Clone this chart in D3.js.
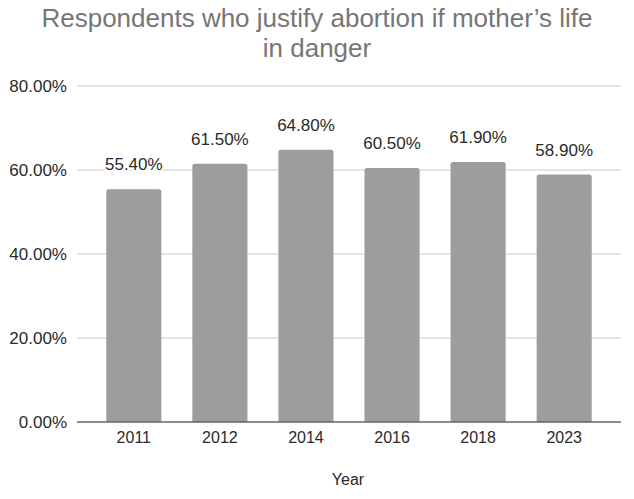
<!DOCTYPE html>
<html>
<head>
<meta charset="utf-8">
<script src="https://cdn.jsdelivr.net/npm/d3@7"></script>
<style>
  body { margin: 0; background: #fff; }
  svg { font-family: "Liberation Sans", Arial, sans-serif; }
</style>
</head>
<body>
<svg width="634" height="499"></svg>
<script>
const years = ['2011', '2012', '2014', '2016', '2018', '2023'];
const values = [55.4, 61.5, 64.8, 60.5, 61.9, 58.9];
const yTicks = [0, 20, 40, 60, 80];

const svg = d3.select('svg');
const margin = { left: 77, right: 13, top: 86, bottom: 77 };
const width = +svg.attr('width');
const height = +svg.attr('height');

const x = d3.scaleBand()
  .domain(years)
  .range([margin.left, width - margin.right])
  .paddingInner(0.36)
  .paddingOuter(0.34);

const y = d3.scaleLinear()
  .domain([0, 80])
  .range([height - margin.bottom, margin.top]);

// title
svg.append('text')
  .attr('text-anchor', 'middle')
  .attr('fill', '#767676')
  .attr('font-size', 26)
  .selectAll('tspan')
  .data(['Respondents who justify abortion if mother\u2019s life', 'in danger'])
  .enter()
  .append('tspan')
    .attr('x', 317)
    .attr('y', (d, i) => 27 + i * 30)
    .text(d => d);

// grid + y labels
const grid = svg.append('g').attr('class', 'grid');
grid.selectAll('line')
  .data(yTicks.filter(d => d > 0))
  .enter()
  .append('line')
    .attr('x1', margin.left)
    .attr('x2', width - margin.right)
    .attr('y1', d => y(d))
    .attr('y2', d => y(d))
    .attr('stroke', '#dcdcdc')
    .attr('stroke-width', 1.3);

grid.selectAll('text')
  .data(yTicks)
  .enter()
  .append('text')
    .attr('x', margin.left - 10)
    .attr('y', d => y(d))
    .attr('dy', '0.36em')
    .attr('text-anchor', 'end')
    .attr('font-size', 17)
    .attr('fill', '#2a2a2a')
    .text(d => d.toFixed(2) + '%');

// bars
const bars = svg.append('g').attr('class', 'bars');
bars.selectAll('path')
  .data(values)
  .enter()
  .append('path')
    .attr('fill', '#9e9d9d')
    .attr('d', (d, i) => {
      const x0 = x(years[i]);
      const w = x.bandwidth();
      const y0 = y(d);
      const y1 = y(0);
      const r = 2.5;
      return `M${x0},${y1}V${y0 + r}Q${x0},${y0} ${x0 + r},${y0}H${x0 + w - r}Q${x0 + w},${y0} ${x0 + w},${y0 + r}V${y1}Z`;
    });

// zero line
svg.append('line')
  .attr('x1', margin.left)
  .attr('x2', width - margin.right)
  .attr('y1', y(0))
  .attr('y2', y(0))
  .attr('stroke', '#666')
  .attr('stroke-width', 1.5);

// value labels
bars.selectAll('text')
  .data(values)
  .enter()
  .append('text')
    .attr('x', (d, i) => x(years[i]) + x.bandwidth() / 2)
    .attr('y', d => y(d) - 19)
    .attr('text-anchor', 'middle')
    .attr('font-size', 17)
    .attr('fill', '#2a2a2a')
    .attr('stroke', '#fff')
    .attr('stroke-width', 4)
    .attr('paint-order', 'stroke')
    .text(d => d.toFixed(2) + '%');

// x labels
svg.append('g')
  .selectAll('text')
  .data(years)
  .enter()
  .append('text')
    .attr('x', d => x(d) + x.bandwidth() / 2)
    .attr('y', y(0) + 21)
    .attr('text-anchor', 'middle')
    .attr('font-size', 16)
    .attr('fill', '#2a2a2a')
    .text(d => d);

svg.append('text')
  .attr('x', 348)
  .attr('y', 485)
  .attr('text-anchor', 'middle')
  .attr('font-size', 16)
  .attr('fill', '#2a2a2a')
  .text('Year');
</script>
</body>
</html>
